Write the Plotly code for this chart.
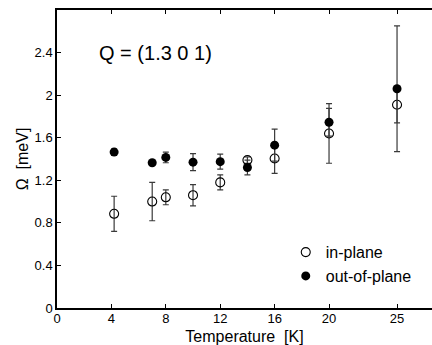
import plotly.graph_objects as go

# Data
temps_in = [4.2, 7, 8, 10, 12, 14, 16, 20, 25]
omega_in = [0.885, 1.00, 1.04, 1.06, 1.18, 1.39, 1.405, 1.64, 1.91]
err_in = [0.165, 0.18, 0.07, 0.10, 0.07, 0.03, 0.14, 0.28, 0.17]

temps_out = [4.2, 7, 8, 10, 12, 14, 16, 20, 25]
omega_out = [1.465, 1.365, 1.415, 1.37, 1.375, 1.32, 1.53, 1.745, 2.06]
err_out = [0.03, 0.02, 0.05, 0.08, 0.07, 0.07, 0.15, 0.13, 0.59]

x_ticks = [0, 4, 8, 12, 16, 20, 25]
y_ticks = [0, 0.4, 0.8, 1.2, 1.6, 2, 2.4]
y_tick_text = ["0", "0.4", "0.8", "1.2", "1.6", "2", "2.4"]

FONT = "Liberation Sans, Arial, Helvetica, sans-serif"
ERRC = "#3a3a3a"

fig = go.Figure()
fig.add_trace(go.Scatter(
    x=temps_in, y=omega_in, mode="markers", name="in-plane",
    marker=dict(symbol="circle-open", size=9, color="black", line=dict(width=1.1, color="black")),
    error_y=dict(type="data", array=err_in, visible=True, color=ERRC, thickness=1.2, width=3),
))
fig.add_trace(go.Scatter(
    x=temps_out, y=omega_out, mode="markers", name="out-of-plane",
    marker=dict(symbol="circle", size=9, color="black"),
    error_y=dict(type="data", array=err_out, visible=True, color=ERRC, thickness=1.2, width=3),
))

fig.add_annotation(x=7.25, y=2.4, text="Q = (1.3 0 1)", showarrow=False,
                   xanchor="center", yanchor="middle",
                   font=dict(family=FONT, size=20, color="black"))

fig.update_layout(
    width=432, height=345,
    margin=dict(l=57, r=0, t=10, b=34),
    paper_bgcolor="white", plot_bgcolor="white",
    font=dict(family=FONT, color="black"),
    showlegend=True,
    legend=dict(x=0.61, y=0.147, xref="paper", yref="paper",
                xanchor="left", yanchor="middle",
                font=dict(family=FONT, size=16, color="black"),
                bgcolor="rgba(0,0,0,0)", tracegroupgap=0),
    xaxis=dict(range=[0, 27.57], tickmode="array", tickvals=x_ticks,
               ticks="inside", ticklen=4, tickwidth=1, tickcolor="black",
               showline=True, linecolor="black", linewidth=1.5, mirror="ticks",
               showgrid=False, zeroline=False, ticklabelstandoff=-2,
               tickfont=dict(family=FONT, size=13, color="black"),
               title=dict(text="Temperature  [K]", font=dict(family=FONT, size=16, color="black"), standoff=7)),
    yaxis=dict(range=[0, 2.8], tickmode="array", tickvals=y_ticks, ticktext=y_tick_text,
               ticks="inside", ticklen=4, tickwidth=1, tickcolor="black",
               showline=True, linecolor="black", linewidth=1.5, mirror=False,
               showgrid=False, zeroline=False,
               tickfont=dict(family=FONT, size=13, color="black"),
               title=dict(text="Ω  [meV]", font=dict(family=FONT, size=16, color="black"), standoff=2)),
)

fig.write_html("out.html")
